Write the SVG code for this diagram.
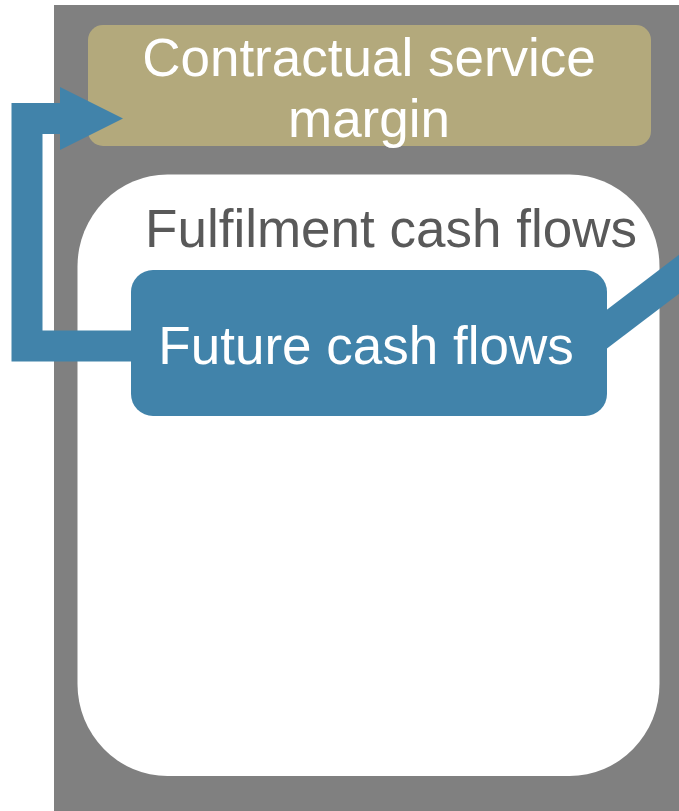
<svg xmlns="http://www.w3.org/2000/svg" width="679" height="811" viewBox="0 0 679 811">
<style>
.lbl{font-family:"Liberation Sans",Arial,sans-serif;font-size:53px;text-anchor:middle}
.w{fill:#ffffff}
.conn{fill:none;stroke:#4183aa;stroke-width:31;stroke-linejoin:miter}
</style>
<rect x="0" y="0" width="679" height="811" fill="#ffffff"/>
<g id="outer"><rect x="54" y="5" width="640" height="820" fill="#808080"/></g>
<g id="csm">
<rect x="88" y="25" width="563" height="121" rx="15" fill="#b3a97c"/>
<text class="lbl w" x="369" y="76">Contractual service</text>
<text class="lbl w" x="369" y="137">margin</text>
</g>
<g id="fcf">
<rect x="77.5" y="174.5" width="582" height="601.5" rx="90" ry="92" fill="#ffffff"/>
<text class="lbl" x="391" y="247" fill="#595959">Fulfilment cash flows</text>
</g>
<g id="connectors">
<path class="conn" d="M140,346 L27,346 L27,118.5 L64,118.5"/>
<polygon points="60,87 123,118.5 60,150" fill="#4183aa"/>
<path class="conn" d="M590,342 L720,243"/>
</g>
<g id="future">
<rect x="131" y="270" width="476" height="146" rx="22" fill="#4183aa"/>
<text class="lbl w" x="366" y="364">Future cash flows</text>
</g>
</svg>
